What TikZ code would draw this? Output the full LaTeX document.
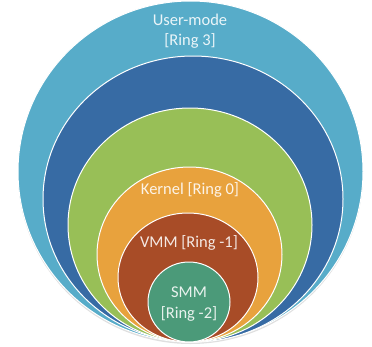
\documentclass[tikz,border=0pt]{standalone}
\usepackage{fontspec}
\setmainfont{Carlito}
\usetikzlibrary{shadows}

\definecolor{userblue}{HTML}{57ACC9}
\definecolor{deepblue}{HTML}{376BA4}
\definecolor{ringgreen}{HTML}{98BF57}
\definecolor{kernelorange}{HTML}{E8A23D}
\definecolor{vmmbrown}{HTML}{A84C27}
\definecolor{smmteal}{HTML}{4B9A79}

\tikzset{
    ring/.style={draw=white, line width=1pt},
    ringlabel/.style={text=white, text opacity=.88, font=\fontsize{16.5}{20.5}\selectfont, align=center}
}

\begin{document}
\begin{tikzpicture}[x=1pt, y=-1pt]
    \useasboundingbox (0,0) rectangle (372,346);

    % outermost ring, with a light shadow under it
    \fill[userblue, ring, drop shadow={shadow xshift=0pt, shadow yshift=-2pt, opacity=.25}]
        (190.5,171.5) ellipse [x radius=172.5pt, y radius=170.5pt];

    % inner rings, all resting on the same bottom line
    \foreach \cx/\cy/\rx/\ry/\col in {193/199/150/143/deepblue,
        190/225/122/117/ringgreen, 189.5/254.5/92.5/87.5/kernelorange,
        188/277.5/70/64.5/vmmbrown, 189/302/41/40/smmteal}
    {
        \fill[\col, ring] (\cx,\cy) ellipse [x radius=\rx pt, y radius=\ry pt];
    }

    \node[ringlabel] (user) at (190,31) {User-mode\\{}[Ring 3]};
    \node[ringlabel] (kernel) at (190,190) {Kernel [Ring 0]};
    \node[ringlabel] (vmm) at (189,243) {VMM [Ring -1]};
    \node[ringlabel] (smm) at (189,304) {SMM\\{}[Ring -2]};

\end{tikzpicture}
\end{document}
